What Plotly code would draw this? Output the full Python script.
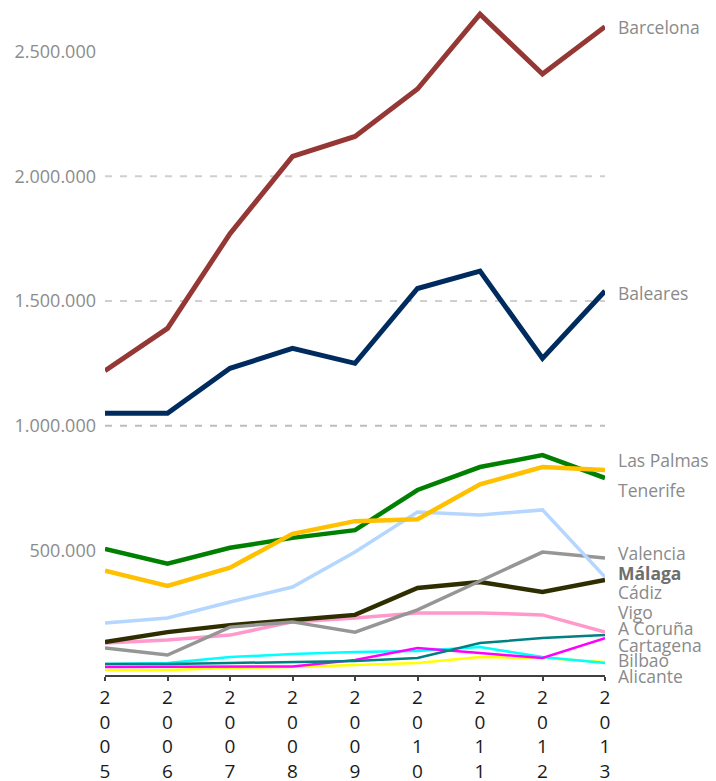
import plotly.graph_objects as go

years = [2005, 2006, 2007, 2008, 2009, 2010, 2011, 2012, 2013]
year_labels = ["2<br>0<br>0<br>5", "2<br>0<br>0<br>6", "2<br>0<br>0<br>7", "2<br>0<br>0<br>8",
               "2<br>0<br>0<br>9", "2<br>0<br>1<br>0", "2<br>0<br>1<br>1", "2<br>0<br>1<br>2",
               "2<br>0<br>1<br>3"]

barcelona = [1220000, 1390000, 1770000, 2080000, 2160000, 2350000, 2650000, 2410000, 2600000]
baleares = [1050000, 1050000, 1230000, 1310000, 1250000, 1550000, 1620000, 1270000, 1540000]
las_palmas = [418000, 357000, 430000, 566000, 617000, 625000, 765000, 834000, 822000]
tenerife = [506000, 446000, 510000, 550000, 581000, 742000, 834000, 882000, 790000]
malaga = [209000, 229000, 293000, 353000, 493000, 654000, 642000, 662000, 393000]
valencia = [108000, 80000, 192000, 213000, 172000, 261000, 377000, 493000, 469000]
cadiz = [132000, 172000, 200000, 221000, 241000, 349000, 373000, 333000, 381000]
vigo = [128000, 140000, 160000, 213000, 229000, 249000, 249000, 241000, 172000]
a_coruna = [44000, 44000, 48000, 52000, 56000, 68000, 128000, 148000, 160000]
cartagena = [32000, 32000, 34000, 34000, 60000, 108000, 88000, 68000, 148000]
bilbao = [44000, 48000, 72000, 84000, 92000, 96000, 112000, 72000, 48000]
alicante = [20000, 20000, 28000, 32000, 40000, 48000, 72000, 68000, 52000]

y_ticks = [500000, 1000000, 1500000, 2000000, 2500000]
grid_values = [1000000, 1500000, 2000000]

# (name, values, color, width, label yshift px, bold)
series = [
    ("Alicante", alicante, "#FFFF00", 2.5, -14, False),
    ("Bilbao", bilbao, "#00FFFF", 2.5, 3, False),
    ("Cartagena", cartagena, "#FF00FF", 2.5, -7, False),
    ("A Coruña", a_coruna, "#008080", 2.5, 7, False),
    ("Vigo", vigo, "#FF99CC", 3.5, 20, False),
    ("Cádiz", cadiz, "#2E2E00", 4.5, -12, False),
    ("Valencia", valencia, "#969696", 3.5, 5, False),
    ("Málaga", malaga, "#B4D6FF", 3.5, 4, True),
    ("Tenerife", tenerife, "#008000", 4.5, -12, False),
    ("Las Palmas", las_palmas, "#FFC000", 4.5, 10, False),
    ("Baleares", baleares, "#002B5E", 5, -2, False),
    ("Barcelona", barcelona, "#953735", 5, 0, False),
]

fig = go.Figure()
annotations = []
for name, vals, color, width, yshift, bold in series:
    fig.add_trace(go.Scatter(x=years, y=vals, mode="lines", name=name,
                             line=dict(color=color, width=width), showlegend=False,
                             hoverinfo="skip"))
    annotations.append(dict(x=years[-1], y=vals[-1], xref="x", yref="y",
                            text=f"<b>{name}</b>" if bold else name,
                            showarrow=False, xanchor="left", yanchor="middle",
                            xshift=11, yshift=yshift,
                            font=dict(family="Open Sans", size=17.5,
                                      color="#6E6E6E" if bold else "#8A8A8A")))

shapes = []
for g in grid_values:
    shapes.append(dict(type="line", xref="x", yref="y", x0=years[0], x1=years[-1],
                       y0=g, y1=g, layer="below",
                       line=dict(color="#CFCFCF" if g != 1000000 else "#BDBDBD",
                                 width=2, dash="7px,8px")))

fig.update_layout(
    width=708, height=773,
    margin=dict(l=97, r=111, t=0, b=106, autoexpand=False),
    paper_bgcolor="white", plot_bgcolor="white",
    separators=",.",
    annotations=annotations,
    shapes=shapes,
)
fig.update_xaxes(range=[years[0], years[-1]], tickvals=years, ticktext=year_labels,
                 automargin=False,
                 showgrid=False, zeroline=False, showline=True, linecolor="#404040",
                 linewidth=2, ticks="outside", ticklen=4, tickwidth=2, tickcolor="#404040",
                 tickfont=dict(family="Open Sans", size=19, color="#1A1A1A"))
fig.update_yaxes(range=[0, 2675000], tickvals=y_ticks, tickformat=",d",
                 automargin=False, ticklabelstandoff=8,
                 showgrid=False, zeroline=False, showline=False, ticks="",
                 tickfont=dict(family="Open Sans", size=18, color="#8C8C8C"))

fig.write_html("out.html")
